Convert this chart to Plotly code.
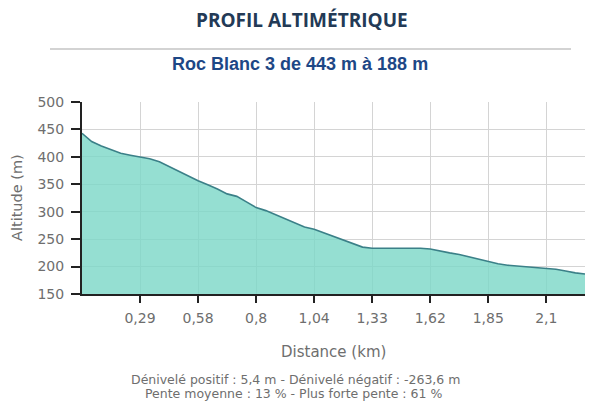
import plotly.graph_objects as go

# Altitude profile sampled at uniform steps (6 steps between labelled ticks)
point_index = list(range(53))
altitude_m = [443, 428, 420, 413, 406.5, 403, 399.5, 396.5, 391, 382,
              373.5, 365.5, 356.5, 349, 341.5, 332.5, 328, 318, 307.5, 302,
              294.5, 287, 278.5, 272, 268, 261.5, 255.5, 248.5, 241.5, 235.5,
              233.5, 233.5, 233.5, 233.5, 233.5, 233.5, 232, 228, 225, 222,
              217.5, 213, 208.5, 205, 202.5, 201, 199.5, 198.5, 197, 195,
              192, 188.5, 186.5]
tick_index = [6, 12, 18, 24, 30, 36, 42, 48]
tick_labels = ["0,29", "0,58", "0,8", "1,04", "1,33", "1,62", "1,85", "2,1"]
y_ticks = [150, 200, 250, 300, 350, 400, 450, 500]

title_text = "PROFIL ALTIMÉTRIQUE"
subtitle_text = "Roc Blanc 3 de 443 m à 188 m"
y_title = "Altitude (m)"
x_title = "Distance (km)"
footer_lines = ["Dénivelé positif : 5,4 m - Dénivelé négatif : -263,6 m",
                "Pente moyenne : 13 % - Plus forte pente : 61 %"]

# page body has an 8px default margin: figure drawn from (8, 8)
OFF = 8
W, H = 600 - OFF, 404 - OFF
L, T, R, B = 82 - OFF, 102 - OFF, 585 - OFF, 294 - OFF

fig = go.Figure()
fig.add_trace(go.Scatter(
    x=point_index, y=altitude_m, mode="lines",
    line=dict(color="#3b8088", width=1.6),
    fill="tozeroy", fillcolor="rgba(122,215,199,0.80)",
    hoverinfo="skip", showlegend=False,
))

grey = "#6e6e6e"
fig.update_layout(
    width=W, height=H,
    margin=dict(l=L, r=W - R, t=T, b=H - B, autoexpand=False),
    paper_bgcolor="white", plot_bgcolor="white",
    font=dict(family="DejaVu Sans", size=14, color=grey),
    xaxis=dict(
        range=[0, 52], tickvals=tick_index, ticktext=tick_labels,
        showgrid=True, gridcolor="#d4d4d4", gridwidth=1,
        showline=True, linecolor="#222", linewidth=2,
        ticks="outside", ticklen=7, tickcolor="#222", tickwidth=1.5,
        tickfont=dict(family="DejaVu Sans", size=14, color=grey),
        ticklabelstandoff=3,
        zeroline=False, fixedrange=True, automargin=False,
    ),
    yaxis=dict(
        range=[150, 500], tickvals=y_ticks,
        showgrid=True, gridcolor="#d4d4d4", gridwidth=1,
        showline=True, linecolor="#222", linewidth=2,
        ticks="outside", ticklen=9, tickcolor="#222", tickwidth=1.5,
        tickfont=dict(family="DejaVu Sans", size=14, color=grey),
        ticklabelstandoff=4,
        zeroline=False, fixedrange=True, automargin=False,
    ),
    showlegend=False,
)

def py(pix):
    return (B - (pix - OFF)) / (B - T)

def px(pix):
    return ((pix - OFF) - L) / (R - L)

def note(text, x, y, family, size, color, angle=0):
    fig.add_annotation(text=text, xref="paper", yref="paper", x=px(x), y=py(y),
                       xanchor="center", yanchor="middle", showarrow=False, textangle=angle,
                       font=dict(family=family, size=size, color=color))

note("<b>" + title_text + "</b>", 302, 20, "Open Sans", 19, "#233a56")
fig.add_shape(type="line", xref="paper", yref="paper", x0=px(50), x1=px(571), y0=py(49), y1=py(49),
              line=dict(color="#c4c4c4", width=1.5))
note("<b>" + subtitle_text + "</b>", 300, 64, "Liberation Sans", 18, "#1d4786")
note(y_title, 17, 198, "DejaVu Sans", 14.5, grey, angle=-90)
note(x_title, 333, 352, "DejaVu Sans", 15, grey)
note(footer_lines[0], 295, 379.5, "DejaVu Sans", 12.5, grey)
note(footer_lines[1], 293, 393.5, "DejaVu Sans", 12.5, grey)

fig.write_html("out.html")
